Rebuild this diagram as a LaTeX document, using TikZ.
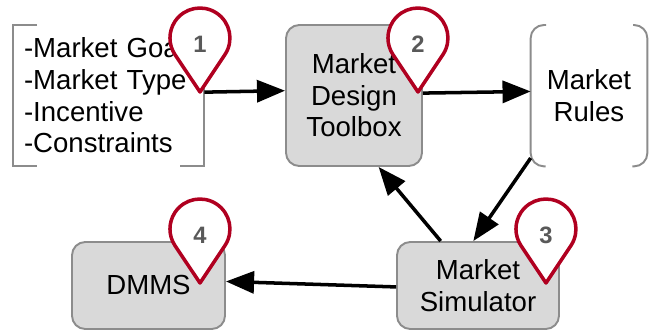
\documentclass[tikz,border=0pt]{standalone}
\usepackage{fontspec}
\setmainfont{Liberation Sans}
\usetikzlibrary{arrows.meta}
\definecolor{boxfill}{HTML}{D9D9D9}
\definecolor{boxline}{HTML}{8C8C8C}
\definecolor{pinred}{HTML}{B00020}
\definecolor{pintext}{HTML}{595959}
\tikzset{
  toolbox/.style={draw=boxline, line width=1.1pt, fill=boxfill, rounded corners=7.5pt, inner sep=0pt, align=center, font=\fontsize{15.7}{18}\selectfont},
  bracket/.style={inner sep=0pt, align=center, font=\fontsize{15.7}{18}\selectfont},
  bracketline/.style={draw=boxline, line width=1.1pt},
  flow/.style={-{Triangle[length=16pt,width=12.5pt]}, line width=2pt, black},
  pinmark/.style={draw=pinred, line width=2pt, fill=white, line join=round},
  pinnum/.style={text=pintext, font=\fontsize{13.5}{13.5}\selectfont\bfseries, inner sep=0pt}
}
\begin{document}
\begin{tikzpicture}[x=0.02cm, y=0.02cm]
  \useasboundingbox (0,0) rectangle (656,332);
  % boxes
  \node (goals) [bracket, align=left, inner xsep=0.22cm, text width=3.38cm, minimum height=2.82cm] at (108.5,236.5) {-Market Goal\\-Market Type\\-Incentive\\-Constraints};
  \node (design) [toolbox, minimum width=2.72cm, minimum height=2.82cm] at (354,236.5) {Market\\Design\\Toolbox};
  \node (rules) [bracket, minimum width=2.32cm, minimum height=2.82cm] at (589,236.5) {Market\\Rules};
  \node (simulator) [toolbox, minimum width=3.24cm, minimum height=1.74cm] at (478,46.5) {Market\\Simulator};
  \node (dmms) [toolbox, minimum width=3.06cm, minimum height=1.74cm] at (148.5,46.5) {DMMS};
  % brackets
  \draw [bracketline] (37,307) -| (goals.south west) -- ++(24,0);
  \draw [bracketline] (180,166) -| (goals.north east) -- ++(-24,0);
  \draw [bracketline, rounded corners=7.5pt] (546,307) -| (rules.south west) -- ++(15,0);
  \draw [bracketline, rounded corners=7.5pt] (633,307) -| (rules.south east) -- ++(-15,0);
  % arrows
  \draw [flow] (goals.2) -- (design.176);
  \draw [flow] (design.2) -- (rules.176);
  \draw [flow] (rules.227) -- (simulator.96);
  \draw [flow] (simulator.130) -- (design.-71);
  \draw [flow] (simulator.181) -- (dmms.3);
  % pins
  \foreach \x/\y/\n/\name in {200/240/1/one, 418/240/2/two, 546/49/3/three, 200/49/4/four}{
    \draw [pinmark] (\x,\y) -- ++(56.3:0.898cm) arc[start angle=-33.7, end angle=213.7, radius=0.6cm] -- cycle;
    \node (pin\name) [pinnum] at (\x,\y+48) {\n};
  }
\end{tikzpicture}
\end{document}
